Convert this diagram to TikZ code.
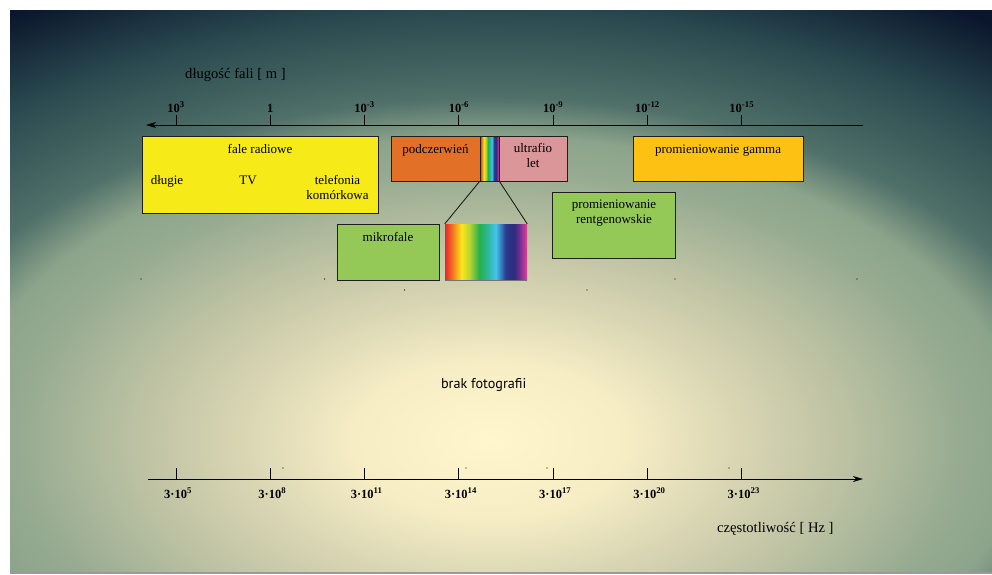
\documentclass[tikz,border=0pt]{standalone}
\usepackage{fontspec}
\setmainfont{Liberation Serif}
\newfontfamily\notefont{PT Sans}
\usetikzlibrary{arrows.meta}

\definecolor{radiocolor}{HTML}{F6EA18}
\definecolor{ircolor}{HTML}{E37027}
\definecolor{uvcolor}{HTML}{DA9699}
\definecolor{gammacolor}{HTML}{FDC114}
\definecolor{leafcolor}{HTML}{94C957}
\definecolor{edgecolor}{HTML}{1E1E1A}
\definecolor{shadowcolor}{HTML}{9A9A9A}
% backdrop
\definecolor{bga}{HTML}{FFF6CE}
\definecolor{bgb}{HTML}{F6EDC5}
\definecolor{bgc}{HTML}{DAD6B4}
\definecolor{bgd}{HTML}{BDC2A3}
\definecolor{bge}{HTML}{96AB91}
\definecolor{bgf}{HTML}{8CA48B}
\definecolor{bgg}{HTML}{507069}
\definecolor{bgh}{HTML}{2A4A50}
\definecolor{bgi}{HTML}{0B162C}
\pgfdeclareradialshading{backdrop}{\pgfpointorigin}{color(0bp)=(bga); color(7bp)=(bgb); color(12.5bp)=(bgc); color(18bp)=(bgd); color(24bp)=(bge); color(27bp)=(bgf); color(30.5bp)=(bgg); color(38bp)=(bgh); color(45bp)=(bgi); color(50bp)=(bgi)}
% rainbow
\definecolor{rba}{HTML}{E8262B}
\definecolor{rbb}{HTML}{F26A21}
\definecolor{rbc}{HTML}{FDE619}
\definecolor{rbd}{HTML}{B8D432}
\definecolor{rbe}{HTML}{22B04C}
\definecolor{rbf}{HTML}{2EB59A}
\definecolor{rbg}{HTML}{45C4EC}
\definecolor{rbh}{HTML}{2B3A8F}
\definecolor{rbi}{HTML}{2E2B7D}
\definecolor{rbj}{HTML}{6A2C8F}
\definecolor{rbk}{HTML}{D4409A}
\pgfdeclarehorizontalshading{rainbow}{100bp}{color(0bp)=(rba); color(25bp)=(rba); color(29bp)=(rbb); color(35bp)=(rbc); color(40bp)=(rbd); color(46bp)=(rbe); color(51bp)=(rbf); color(56bp)=(rbg); color(62bp)=(rbh); color(67bp)=(rbi); color(70bp)=(rbj); color(74.5bp)=(rbk); color(100bp)=(rbk)}

\newcommand{\bandsize}{\fontsize{13}{14.5}\selectfont}
\newcommand{\titlesize}{\fontsize{14.6}{16}\selectfont}
\newcommand{\ticksize}{\fontsize{12.5}{14}\bfseries}

\tikzstyle{band} = [draw=edgecolor, line width=1pt, inner sep=0pt]
\tikzstyle{bandtext} = [font=\bandsize, align=center, inner sep=0pt, anchor=base]
\tikzstyle{axisline} = [draw, line width=1pt]
\tikzstyle{tickmark} = [draw, line width=1pt]
\tikzstyle{ticklabel} = [font=\ticksize, inner sep=0pt, anchor=base]
\tikzstyle{axistitle} = [font=\titlesize, inner sep=0pt, anchor=base west]
\tikzstyle{zoomline} = [draw=edgecolor, line width=0.9pt]

\begin{document}
\begin{tikzpicture}[x=1pt, y=-1pt]
      %backdrop
      \useasboundingbox (0,0) rectangle (992,574);
      \fill[white] (0,0) rectangle (992,574);
      \fill[shadowcolor] (10,570) rectangle (992,574);
      \begin{scope}
        \pgfsetadditionalshadetransform{\pgftransformshift{\pgfpoint{-0.56bp}{-13.3bp}}}
        \shade[shading=backdrop] (10,10) rectangle (992,571.5);
      \end{scope}
      \foreach \x/\y in {141/279, 324.5/279, 404.5/290, 587/290, 675/279, 857/279, 283/468, 466/468, 547/468, 729/468}
        \fill (\x,\y) circle (0.6);

      %bands
      \foreach \bandname/\x/\y/\w/\h/\color in {
        radio/260/174.5/236/77/radiocolor,
        ir/435.5/158.5/89/45/ircolor,
        uv/533/158.5/68/45/uvcolor,
        gamma/718/158.5/170/45/gammacolor,
        xray/613.5/225/123/66/leafcolor,
        micro/388/252/102/56/leafcolor}
      {
        \node[band, fill=\color, minimum width=\w pt, minimum height=\h pt] (\bandname) at (\x,\y) {};
      };
      \node[band, shade, shading=rainbow, minimum width=19pt, minimum height=45pt] (vissmall) at (489.5,158.5) {};
      \node[inner sep=0pt, shade, shading=rainbow, minimum width=82pt, minimum height=56pt] (visbig) at (486,252) {};
      \draw[draw=black!55, line width=0.8pt] (visbig.south west) -- (visbig.south east);
      \path (vissmall.south west) edge[zoomline] (visbig.north west)
            (vissmall.south east) edge[zoomline] (visbig.north east);

      %band texts
      \node[bandtext] (radiotitle) at (260,153.5) {fale radiowe};
      \node[bandtext] (longwave) at (167,184) {długie};
      \node[bandtext] (tv) at (248,184) {TV};
      \node[bandtext] (phone) at (337.5,199.3) {telefonia\\komórkowa};
      \node[bandtext] (irtext) at (435.5,153) {podczerwień};
      \node[bandtext] (uvtext) at (533,167) {ultrafio\\let};
      \node[bandtext] (gammatext) at (718,153.3) {promieniowanie gamma};
      \node[bandtext] (xraytext) at (614,223.3) {promieniowanie\\rentgenowskie};
      \node[bandtext] (microtext) at (388,241.7) {mikrofale};
      \node[font=\notefont\fontsize{14.2}{16}\selectfont, inner sep=0pt, anchor=base] (nophoto) at (483.7,388.3) {brak fotografii};

      %axes
      \coordinate (wavestart) at (863,125);
      \coordinate (waveend) at (146,125);
      \coordinate (freqstart) at (148,479);
      \coordinate (freqend) at (863,479);
      \draw[axisline, -{Stealth[length=10pt, width=6pt, inset=3pt]}] (wavestart) -- (waveend);
      \draw[axisline, -{Stealth[length=10pt, width=6pt, inset=3pt]}] (freqstart) -- (freqend);
      \node[axistitle] (wavetitle) at (185,78) {długość fali [ m ]};
      \node[axistitle] (freqtitle) at (717,532) {częstotliwość [ Hz ]};

      \foreach \tickname/\x/\wavelabel/\freqexp in {
        a/176/10\textsuperscript{3}/5,
        b/270.3/1/8,
        c/364.6/10\textsuperscript{-3}/11,
        d/458.9/10\textsuperscript{-6}/14,
        e/553.2/10\textsuperscript{-9}/17,
        f/647.5/10\textsuperscript{-12}/20,
        g/741.8/10\textsuperscript{-15}/23}
      {
        \coordinate (w\tickname) at (\x,125);
        \coordinate (wt\tickname) at (\x,115);
        \coordinate (f\tickname) at (\x,479);
        \coordinate (ft\tickname) at (\x,468);
        \draw[tickmark] (wt\tickname) -- (w\tickname);
        \draw[tickmark] (ft\tickname) -- (f\tickname);
        \node[ticklabel] (wl\tickname) at (\x,112) {\wavelabel};
        \node[ticklabel] (fl\tickname) at (\x+2,498) {3·10\textsuperscript{\freqexp}};
      };
\end{tikzpicture}
\end{document}
